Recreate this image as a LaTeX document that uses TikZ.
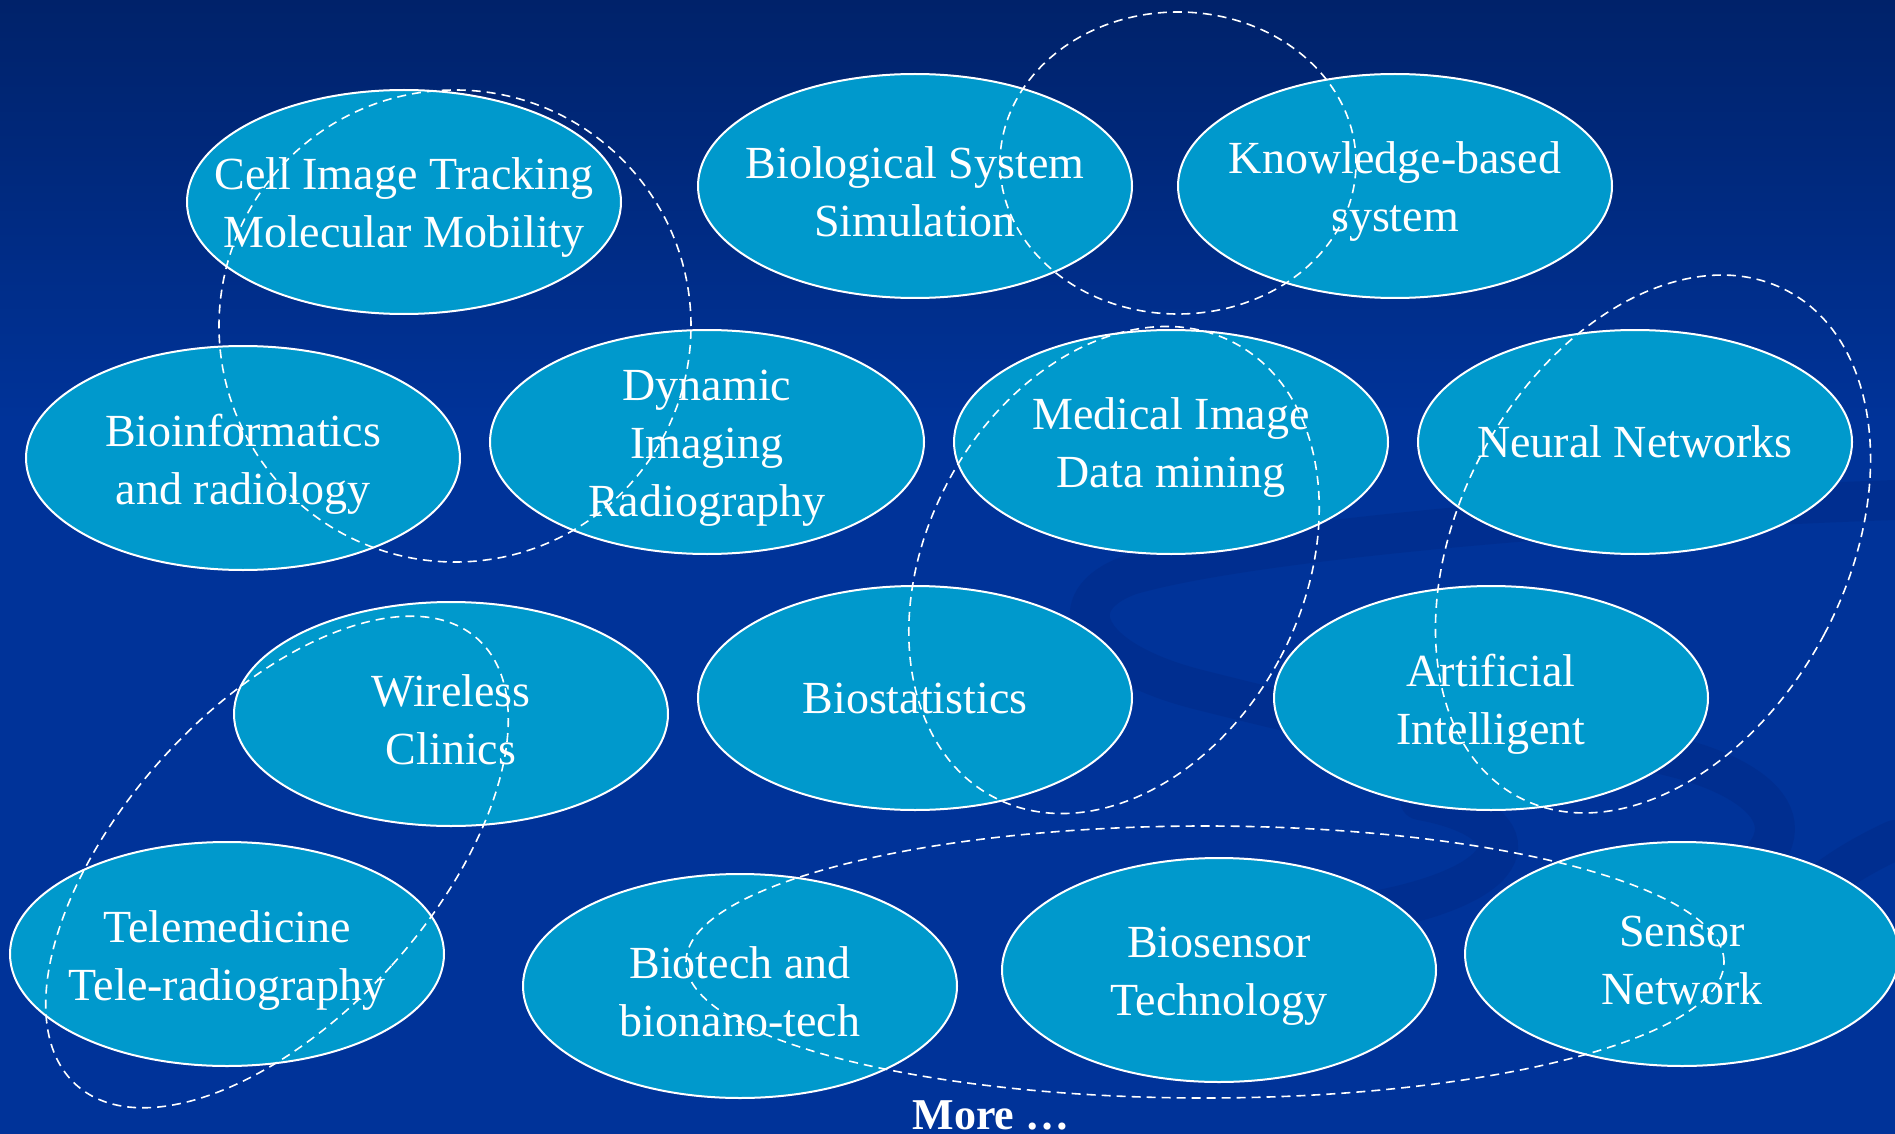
\documentclass[tikz,border=0pt]{standalone}
\usepackage{fontspec}
\setmainfont{Liberation Serif}
\usetikzlibrary{shapes.geometric}
\definecolor{bgtop}{RGB}{0,34,106}
\definecolor{bgmid}{RGB}{0,51,153}
\definecolor{swirl}{RGB}{0,38,128}
\definecolor{bubblefill}{RGB}{0,153,204}
\begin{document}
\begin{tikzpicture}[x=0.5pt,y=-0.5pt,
  bubble/.style={ellipse, draw=white, line width=1pt, fill=bubblefill,
    minimum width=217pt, minimum height=112pt, inner sep=0pt},
  btext/.style={text=white, align=center, font=\fontsize{23}{29}\selectfont, inner sep=0pt},
  mtext/.style={btext, yshift=-3pt},
  group/.style={draw=white, line width=0.8pt, dash pattern=on 4.5pt off 3pt},
  band/.style={draw=swirl, line width=20pt, line cap=round, opacity=0.35}]
\useasboundingbox (0,0) rectangle (1895,1134);
% background
\shade[top color=bgtop, bottom color=bgmid] (0,0) rectangle (1895,420);
\fill[bgmid] (0,419) rectangle (1895,1134);
% faint swirl bands
\draw[band] (1895,500) .. controls (1600,510) and (1250,540) .. (1130,575)
  .. controls (1060,600) and (1080,660) .. (1200,690)
  .. controls (1260,705) and (1300,715) .. (1330,720);
\draw[band] (1420,800) .. controls (1530,820) and (1530,880) .. (1380,910);
\draw[band] (1640,750) .. controls (1760,770) and (1830,830) .. (1720,890);
\draw[band] (1895,840) .. controls (1830,870) and (1780,910) .. (1760,960);
% bubbles
\node[bubble] (cell)      at (404,202)  {};
\node[bubble] (biosys)    at (915,186)  {};
\node[bubble] (know)      at (1395,186) {};
\node[bubble] (bioinf)    at (243,458)  {};
\node[bubble] (dyn)       at (707,442)  {};
\node[bubble] (med)       at (1171,442) {};
\node[bubble] (neural)    at (1635,442) {};
\node[bubble] (wireless)  at (451,714)  {};
\node[bubble] (biostat)   at (915,698)  {};
\node[bubble] (ai)        at (1491,698) {};
\node[bubble] (tele)      at (227,954)  {};
\node[bubble] (biotech)   at (740,986)  {};
\node[bubble] (biosensor) at (1219,970) {};
\node[bubble] (sensor)    at (1682,954) {};
% dashed groupings
\coordinate (gA) at (455,326);
\coordinate (gB) at (1178,163);
\coordinate (gC) at (1114,570);
\coordinate (gD) at (1653,544);
\coordinate (gE) at (277,862);
\coordinate (gF) at (1205,962);
\draw[group] (gA) circle[radius=118pt];
\draw[group] (gB) ellipse[x radius=89pt, y radius=75.5pt];
\draw[group, rotate around={-28:(gC)}] (gC) ellipse[x radius=94pt, y radius=128.5pt];
\draw[group, rotate around={-28:(gD)}] (gD) ellipse[x radius=96.8pt, y radius=143.3pt];
\draw[group, rotate around={-42:(gE)}] (gE) ellipse[x radius=77.25pt, y radius=150pt];
\draw[group] (gF) ellipse[x radius=259.5pt, y radius=68pt];
% texts
\node[mtext] (cellT)      at (cell.center)      {Cell Image Tracking\\Molecular Mobility};
\node[mtext] (biosysT)    at (biosys.center)    {Biological System\\Simulation};
\node[mtext] (knowT)      at (know.center)      {Knowledge-based\\system};
\node[mtext] (bioinfT)    at (bioinf.center)    {Bioinformatics\\and radiology};
\node[mtext] (dynT)       at (dyn.center)       {Dynamic\\Imaging\\Radiography};
\node[mtext] (medT)       at (med.center)       {Medical Image\\Data mining};
\node[btext] (neuralT)    at (neural.center)    {Neural Networks};
\node[mtext] (wirelessT)  at (wireless.center)  {Wireless\\Clinics};
\node[btext] (biostatT)   at (biostat.center)   {Biostatistics};
\node[mtext] (aiT)        at (ai.center)        {Artificial\\Intelligent};
\node[mtext] (teleT)      at (tele.center)      {Telemedicine\\Tele-radiography};
\node[mtext] (biotechT)   at (biotech.center)   {Biotech and\\bionano-tech};
\node[mtext] (biosensorT) at (biosensor.center) {Biosensor\\Technology};
\node[mtext] (sensorT)    at (sensor.center)    {Sensor\\Network};
\node[text=white, inner sep=0pt, anchor=base, font=\bfseries\fontsize{22}{26}\selectfont]
  (more) at (991,1129) {More \ldots};
\end{tikzpicture}
\end{document}
